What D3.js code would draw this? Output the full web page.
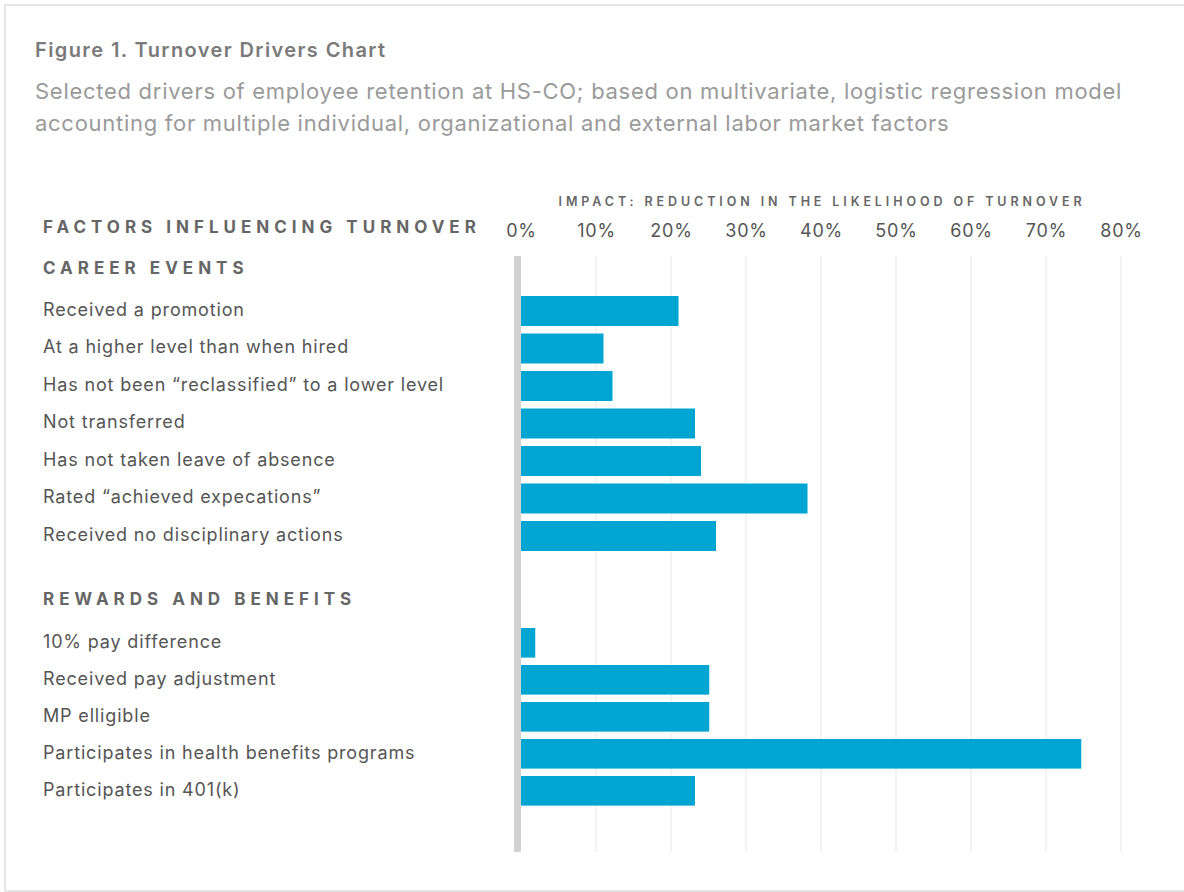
<!DOCTYPE html>
<html>
<head>
<meta charset="utf-8">
<script src="https://cdn.jsdelivr.net/npm/d3@7"></script>
<style>
  body { margin: 0; background: #fff; }
  svg { display: block; font-family: Inter, "Noto Sans", sans-serif; }
</style>
</head>
<body>
<script>
// canvas size
var width = 1184
var height = 892

// data
const careerLabels = [
  "Received a promotion",
  "At a higher level than when hired",
  "Has not been \u201creclassified\u201d to a lower level",
  "Not transferred",
  "Has not taken leave of absence",
  "Rated \u201cachieved expecations\u201d",
  "Received no disciplinary actions"
];
const careerValues = [21.0, 11.0, 12.2, 23.2, 24.0, 38.2, 26.0];

const rewardLabels = [
  "10% pay difference",
  "Received pay adjustment",
  "MP elligible",
  "Participates in health benefits programs",
  "Participates in 401(k)"
];
const rewardValues = [1.9, 25.1, 25.1, 74.7, 23.2];

const tickValues = [0, 10, 20, 30, 40, 50, 60, 70, 80];

const BAR_COLOR = "#00a5d1";
const LABEL_COLOR = "#555";

const svg = d3.select("body").append("svg")
  .attr("width", width)
  .attr("height", height)

// outer frame
svg.append("rect")
  .attr("x", 5).attr("y", 5)
  .attr("width", width + 20).attr("height", 886)
  .attr("fill", "none")
  .attr("stroke", "#ddd")
  .attr("stroke-width", 1.5)

// title + subtitle
svg.append("text")
  .attr("x", 35).attr("y", 57)
  .attr("font-size", "20px")
  .attr("font-weight", 600)
  .attr("letter-spacing", "1.4px")
  .attr("fill", "#7a7a7a")
  .text("Figure 1. Turnover Drivers Chart")

var sub = ["Selected drivers of employee retention at HS-CO; based on multivariate, logistic regression model",
           "accounting for multiple individual, organizational and external labor market factors"]
svg.selectAll(".sub").data(sub).enter().append("text")
  .attr("class", "sub")
  .attr("x", 35)
  .attr("y", (d, i) => 99 + i * 32)
  .attr("font-size", "22px")
  .attr("letter-spacing", "0.72px")
  .attr("fill", "#9a9a9a")
  .text(d => d)

// x scale
var x = d3.scaleLinear().domain([0, 80]).range([521, 1121])

var gridTop = 256, gridBottom = 852

// gridlines
svg.append("g").selectAll("line")
  .data(tickValues.slice(1))
  .enter().append("line")
  .attr("x1", d => x(d)).attr("x2", d => x(d))
  .attr("y1", gridTop).attr("y2", gridBottom)
  .attr("stroke", "#efefef")
  .attr("stroke-width", 1.5)

// zero line
svg.append("rect")
  .attr("x", x(0) - 7).attr("y", gridTop)
  .attr("width", 7).attr("height", gridBottom - gridTop)
  .attr("fill", "#d2d2d2")

// tick labels via axis
var axis = svg.append("g")
  .attr("transform", "translate(0,237)")
  .call(d3.axisTop(x).tickValues(tickValues).tickSize(0).tickPadding(0).tickFormat(d => d + "%"))
axis.select(".domain").remove()
axis.selectAll("text")
  .attr("font-family", "Inter, 'Noto Sans', sans-serif")
  .attr("font-size", "18px")
  .attr("letter-spacing", "0.8px")
  .attr("fill", "#555")
  .attr("dy", 0)

// axis header
svg.append("text")
  .attr("x", 822).attr("y", 206)
  .attr("text-anchor", "middle")
  .attr("font-size", "12.5px")
  .attr("font-weight", 600)
  .attr("letter-spacing", "3.9px")
  .attr("fill", "#666")
  .text("IMPACT: REDUCTION IN THE LIKELIHOOD OF TURNOVER")

// left headers
function header(txt, y) {
  svg.append("text")
    .attr("x", 43).attr("y", y)
    .attr("font-size", "17px")
    .attr("font-weight", 700)
    .attr("letter-spacing", "5px")
    .attr("fill", "#666")
    .text(txt)
}
header("FACTORS INFLUENCING TURNOVER", 233)
header("CAREER EVENTS", 274)
header("REWARDS AND BENEFITS", 605)

// one band scale per section
var yCareer = d3.scaleBand().domain(careerLabels).range([288.5, 558.5]).padding(0.2)
var yReward = d3.scaleBand().domain(rewardLabels).range([620.6, 813]).padding(0.2)

function section(labels, values, y) {
  var rows = labels.map((l, i) => ({label: l, value: values[i]}))
  var g = svg.append("g").selectAll("g")
    .data(rows)
    .enter().append("g")

  g.append("rect")
    .attr("x", x(0))
    .attr("y", d => y(d.label))
    .attr("width", d => x(d.value) - x(0))
    .attr("height", y.bandwidth())
    .attr("fill", BAR_COLOR)

  g.append("text")
    .attr("x", 43)
    .attr("y", d => y(d.label) + y.bandwidth() / 2 - 1)
    .attr("dy", "0.32em")
    .attr("font-size", "18px")
    .attr("letter-spacing", "0.84px")
    .attr("fill", LABEL_COLOR)
    .text(d => d.label)
}
section(careerLabels, careerValues, yCareer)
section(rewardLabels, rewardValues, yReward)
</script>
</body>
</html>
